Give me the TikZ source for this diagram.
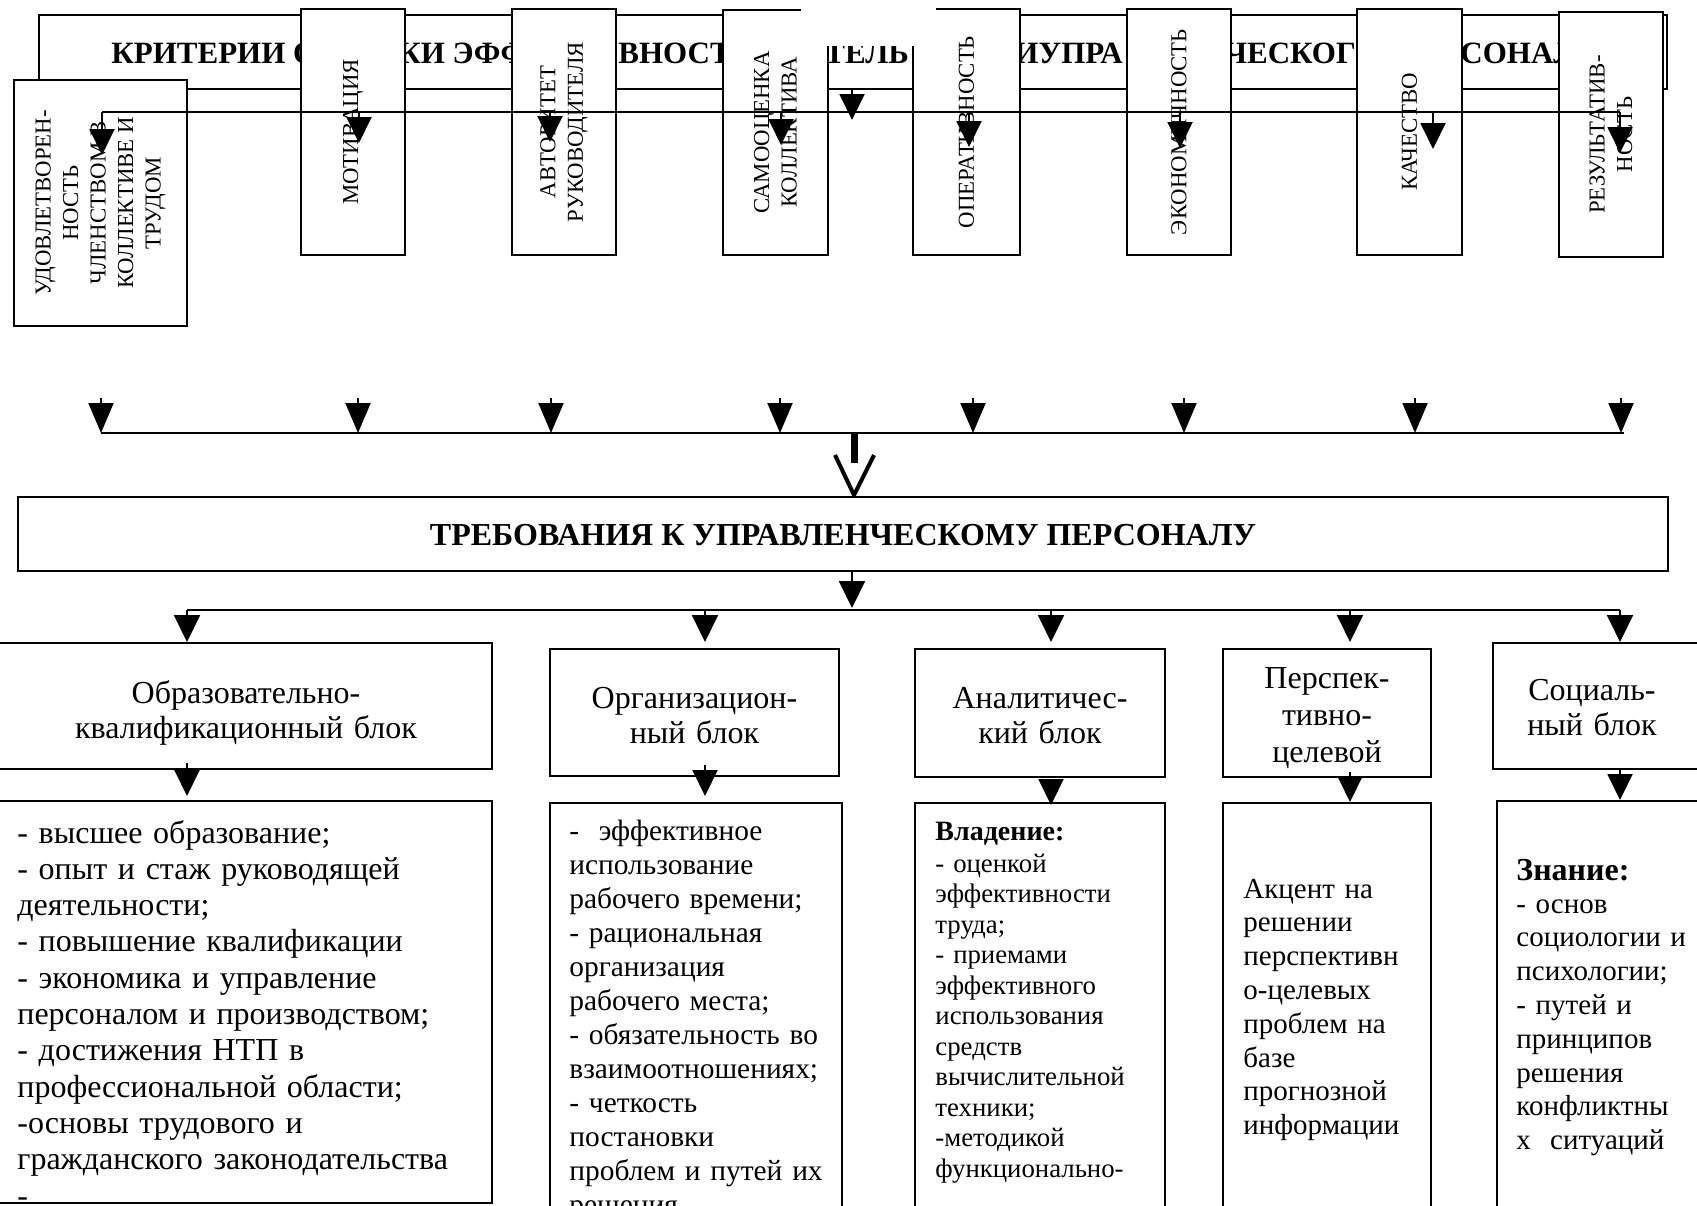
\documentclass[tikz,border=0pt]{standalone}
\usepackage{fontspec}
\setmainfont{Liberation Serif}
\usetikzlibrary{arrows.meta,fit}
\begin{document}
\begin{tikzpicture}[x=0.5pt,y=-0.5pt,
  bx/.style={draw, fill=white, line width=1.2pt, inner sep=0pt},
  hd/.style={font=\bfseries\fontsize{15.5}{18}\selectfont, inner sep=0pt, anchor=base west},
  vt/.style={rotate=90, align=center, inner sep=0pt, font=\fontsize{11.4}{13.75}\selectfont},
  ln/.style={line width=1pt},
  arr/.style={line width=1pt, -{Triangle[length=13pt,width=12.5pt]}},
  arrb/.style={line width=1pt, -{Triangle[length=15pt,width=12.5pt]}},
  arrc/.style={line width=1pt, -{Triangle[length=13.5pt,width=13pt]}},
  bt/.style={inner sep=0pt, anchor=base, align=center, font=\fontsize{16}{17.5}\selectfont},
  lt/.style={inner sep=0pt, anchor=base west, align=left},
]
\useasboundingbox (0,0) rectangle (1697,1205);
\clip (0,0) rectangle (1697,1205);

% ---------- header ----------
\node[bx, fit={(39,15) (1667,89)}] (hdr) {};
\node[hd] (h1) at (111,63) {КРИТЕРИИ О};
\node[hd] (h2) at (398,63) {КИ ЭФФ};
\node[hd] (h3) at (618,63) {ВНОСТ};
\node[hd] (h4) at (824,63) {ТЕЛЬ};
\node[hd] (h5) at (1014,63) {ИУПРА};
\node[hd] (h6) at (1224,63) {ЧЕСКОГ};
\node[hd] (h7) at (1460,63) {СОНАЛ};

% ---------- criteria boxes ----------
\node[bx, fit={(14,80) (187,326)}] (v1) {};
\node[bx, fit={(301,9) (405,255)}] (v2) {};
\node[bx, fit={(512,9) (616,255)}] (v3) {};
\node[bx, fit={(723,10) (828,255)}] (v4) {};
\node[bx, fit={(913,9) (1020,255)}] (v5) {};
\node[bx, fit={(1127,9) (1231,255)}] (v6) {};
\node[bx, fit={(1357,9) (1462,255)}] (v7) {};
\node[bx, fit={(1559,12) (1663,257)}] (v8) {};

\node[vt] (v1t) at (v1.center) {УДОВЛЕТВОРЕН-\\НОСТЬ\\ЧЛЕНСТВОМ В\\КОЛЛЕКТИВЕ И\\ТРУДОМ};
\node[vt] (v2t) at (v2.center) {МОТИВАЦИЯ};
\node[vt] (v3t) at (v3.center) {АВТОРИТЕТ\\РУКОВОДИТЕЛЯ};
\node[vt] (v4t) at (v4.center) {САМООЦЕНКА\\КОЛЛЕКТИВА};
\node[vt] (v5t) at (v5.center) {ОПЕРАТИВНОСТЬ};
\node[vt] (v6t) at (v6.center) {ЭКОНОМИЧНОСТЬ};
\node[vt] (v7t) at (v7.center) {КАЧЕСТВО};
\node[vt] (v8t) at (v8.center) {РЕЗУЛЬТАТИВ-\\НОСТЬ};

\fill[white] (801,0) rectangle (936,46);

% ---------- first arrow row ----------
\coordinate (l1a) at (102,112);
\coordinate (l1b) at (1620,112);
\draw[ln] (l1a) -- (l1b);
\foreach \x/\t [count=\i] in {102/155,359/143,550/142,781/145,969/147,1180/148,1433/149,1620/153} {
  \coordinate (a\i s) at (\x,112);
  \coordinate (a\i e) at (\x,\t);
  \draw[arr] (a\i s) -- (a\i e);
}
\coordinate (a0s) at (852,89);
\coordinate (a0e) at (852,120);
\draw[arr] (a0s) -- (a0e);

% ---------- second arrow row ----------
\coordinate (l2a) at (101,433);
\coordinate (l2b) at (1624,433);
\draw[ln] (l2a) -- (l2b);
\foreach \x [count=\i] in {101,358,551,780,973,1184,1415,1621} {
  \coordinate (b\i s) at (\x,398);
  \coordinate (b\i e) at (\x,433);
  \draw[arrb] (b\i s) -- (b\i e);
}

% hollow arrow
\coordinate (hs) at (854,432);
\coordinate (he) at (854,463);
\draw[line width=3.5pt] (hs) -- (he);
\coordinate (hv1) at (835,455);
\coordinate (hv2) at (854,495);
\coordinate (hv3) at (874,455);
\draw[line width=2pt, line join=miter] (hv1) -- (hv2) -- (hv3);

% ---------- requirements ----------
\node[bx, fit={(18,497) (1668,571)}] (req) {};
\node[font=\bfseries\fontsize{16}{18}\selectfont, inner sep=0pt, anchor=base] (reqt) at (843,545) {ТРЕБОВАНИЯ К УПРАВЛЕНЧЕСКОМУ ПЕРСОНАЛУ};

\coordinate (rs) at (852,571);
\coordinate (re) at (852,608);
\draw[arrc] (rs) -- (re);

\coordinate (l3a) at (187,610);
\coordinate (l3b) at (1620,610);
\draw[ln] (l3a) -- (l3b);
\foreach \x [count=\i] in {187,705,1051,1350,1620} {
  \coordinate (c\i s) at (\x,610);
  \coordinate (c\i e) at (\x,642);
  \draw[arrc] (c\i s) -- (c\i e);
}

% ---------- blocks ----------
\node[bx, fit={(-5,643) (492,769)}] (k1) {};
\node[bx, fit={(550,649) (839,776)}] (k2) {};
\node[bx, fit={(915,649) (1165,777)}] (k3) {};
\node[bx, fit={(1223,649) (1431,777)}] (k4) {};
\node[bx, fit={(1493,643) (1702,769)}] (k5) {};

\node[bt, text width=240pt] (k1t) at (246,703) {Образовательно-\\квалификационный блок};
\node[bt, text width=140pt] (k2t) at (694.5,708) {Организацион-\\ный блок};
\node[bt, text width=120pt] (k3t) at (1040,708) {Аналитичес-\\кий блок};
\node[bt, text width=100pt, font=\fontsize{16}{18.5}\selectfont] (k4t) at (1327,688) {Перспек-\\тивно-\\целевой};
\node[bt, text width=95pt] (k5t) at (1592,700) {Социаль-\\ный блок};

% arrows blocks -> details
\foreach \x/\s/\e [count=\i] in {187/763/796,705/765/796,1051/779/805,1350/772/802,1620/770/800} {
  \coordinate (d\i s) at (\x,\s);
  \coordinate (d\i e) at (\x,\e);
}

% ---------- details ----------
\node[bx, fit={(-5,801) (492,1203)}] (m1) {};
\node[bx, fit={(550,803) (842,1240)}] (m2) {};
\node[bx, fit={(915,803) (1165,1240)}] (m3) {};
\node[bx, fit={(1223,803) (1431,1240)}] (m4) {};
\node[bx, fit={(1497,801) (1702,1240)}] (m5) {};

\foreach \i in {1,...,5} { \draw[arr] (d\i s) -- (d\i e); }

\node[lt, text width=238pt, font=\fontsize{16}{18.15}\selectfont] (m1t) at (17,843) {%
- высшее образование;\\
- опыт и стаж руководящей\\
деятельности;\\
- повышение квалификации\\
- экономика и управление\\
персоналом и производством;\\
- достижения НТП в\\
профессиональной области;\\
-основы трудового и\\
гражданского законодательства\\
-};

\node[lt, text width=138pt, font=\fontsize{14.7}{17}\selectfont] (m2t) at (569,840) {%
-\ \ эффективное\\
использование\\
рабочего времени;\\
- рациональная\\
организация\\
рабочего места;\\
- обязательность во\\
взаимоотношениях;\\
- четкость\\
постановки\\
проблем и путей их\\
решения};

\node[lt, text width=112pt, font=\fontsize{13.4}{15.25}\selectfont] (m3t) at (935,840) {%
{\bfseries\fontsize{14}{15.25}\selectfont Владение:}\\[0.75pt]
- оценкой\\
эффективности\\
труда;\\
- приемами\\
эффективного\\
использования\\
средств\\
вычислительной\\
техники;\\
-методикой\\
функционально-};

\node[lt, text width=95pt, font=\fontsize{14.5}{16.9}\selectfont] (m4t) at (1243,898) {%
Акцент на\\
решении\\
перспективн\\
о-целевых\\
проблем на\\
базе\\
прогнозной\\
информации};

\node[lt, text width=95pt, font=\fontsize{14.5}{16.9}\selectfont] (m5t) at (1516,880) {%
{\bfseries\fontsize{16}{16.9}\selectfont Знание:}\\[-0.4pt]
- основ\\
социологии и\\
психологии;\\
- путей и\\
принципов\\
решения\\
конфликтны\\
х\ \ ситуаций};
\end{tikzpicture}
\end{document}
